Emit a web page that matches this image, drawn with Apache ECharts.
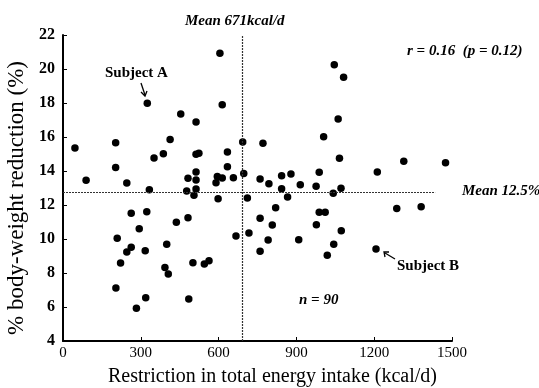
<!DOCTYPE html>
<html>
<head>
<meta charset="utf-8">
<script src="https://cdn.jsdelivr.net/npm/echarts@6/dist/echarts.min.js"></script>
<style>
html,body{margin:0;padding:0;background:#fff;}
#c{width:539px;height:388px;}
</style>
</head>
<body>
<div id="c"></div>
<script>
// Restriction in total energy intake (kcal/d)
const xValues = [605,325,614,454,513,46,203,413,693,351,387,513,524,634,203,634,89,246,482,513,513,595,614,657,590,697,760,
  333,477,513,505,598,711,
  263,323,294,437,482,209,263,246,317,400,667,717,222,393,406,501,545,563,204,319,485,283,
  1046,1082,1061,1005,771,1066,1314,1475,1212,988,879,843,794,915,976,843,1072,
  866,1042,820,988,1011,1287,1381,760,807,977,1073,791,909,1044,760,1019,1207];
// % body-weight reduction
const yValues = [20.92,17.98,17.9,17.35,16.88,15.35,15.66,15.86,15.7,14.76,15.02,14.98,15.05,15.12,14.2,14.25,13.45,13.3,13.57,13.94,13.47,13.67,13.59,13.6,13.31,13.86,13.53,
  12.9,12.82,12.94,12.57,12.37,12.41,
  11.51,11.6,10.6,10.98,11.25,10.04,9.51,9.24,9.31,9.69,10.18,10.35,8.59,8.33,7.94,8.61,8.53,8.72,7.12,6.55,6.47,5.92,
  20.25,19.51,17.06,16.02,15.63,14.75,14.57,14.49,13.94,13.92,13.82,13.72,13.25,13.19,13.1,12.96,12.98,
  12.47,12.69,11.84,11.57,11.57,11.8,11.9,11.22,10.82,10.84,10.49,9.94,9.96,9.69,9.28,9.04,9.41];
const xTicks = [0,300,600,900,1200,1500];
const yTicks = [4,6,8,10,12,14,16,18,20,22];
const meanX = 690;          // drawn position of the "Mean 671kcal/d" line
const meanY = 12.75;        // drawn position of the "Mean 12.5%" line
const meanYLineEnd = 1435;

const points = xValues.map((x, i) => [x, yValues[i]]);
const serif = '"Liberation Serif","DejaVu Serif",serif';

const chart = echarts.init(document.getElementById('c'), null, {renderer: 'canvas'});
chart.setOption({
  animation: false,
  backgroundColor: '#fff',
  grid: {left: 63, right: 87, top: 35, bottom: 47, containLabel: false, outerBoundsMode: 'none'},
  xAxis: {
    type: 'value', min: xTicks[0], max: xTicks[xTicks.length - 1], interval: 300,
    name: 'Restriction in total energy intake (kcal/d)',
    nameLocation: 'middle', nameGap: 26,
    nameTextStyle: {fontFamily: serif, fontSize: 20, color: '#000', padding: [0, 0, 0, 30]},
    axisLine: {lineStyle: {color: '#000', width: 2}},
    axisTick: {inside: true, length: 4, lineStyle: {color: '#000'}},
    axisLabel: {fontFamily: serif, fontSize: 15, color: '#000', margin: 5, formatter: v => String(v)},
    splitLine: {show: false}
  },
  yAxis: {
    type: 'value', min: yTicks[0], max: yTicks[yTicks.length - 1], interval: 2,
    name: '% body-weight reduction (%)',
    nameLocation: 'middle', nameGap: 31,
    nameTextStyle: {fontFamily: serif, fontSize: 23, color: '#000', padding: [0, 20, 0, 0]},
    axisLine: {lineStyle: {color: '#000', width: 2}},
    axisTick: {inside: true, length: 4, lineStyle: {color: '#000'}},
    axisLabel: {fontFamily: serif, fontSize: 16, fontWeight: 'bold', color: '#000', margin: 8},
    splitLine: {show: false}
  },
  series: [{
    type: 'scatter',
    data: points,
    symbolSize: 7.5,
    itemStyle: {color: '#000', opacity: 1},
    markLine: {
      silent: true, symbol: 'none',
      label: {show: false},
      lineStyle: {color: '#333', type: [2, 1], width: 1.2},
      data: [
        {xAxis: meanX},
        [{coord: [0, meanY]}, {coord: [meanYLineEnd, meanY]}]
      ]
    }
  }],
  graphic: [
    {type: 'text', left: 185, top: 14, style: {text: 'Mean 671kcal/d', font: 'italic bold 15px ' + serif, fill: '#000'}},
    {type: 'text', left: 407, top: 44, style: {text: 'r = 0.16  (p = 0.12)', font: 'italic bold 15px ' + serif, fill: '#000'}},
    {type: 'text', left: 462, top: 184, style: {text: 'Mean 12.5%', font: 'italic bold 15px ' + serif, fill: '#000'}},
    {type: 'text', left: 299, top: 293, style: {text: 'n = 90', font: 'italic bold 15px ' + serif, fill: '#000'}},
    {type: 'text', left: 105, top: 66, style: {text: 'Subject A', font: 'bold 15px ' + serif, fill: '#000'}},
    {type: 'text', left: 397, top: 259, style: {text: 'Subject B', font: 'bold 15px ' + serif, fill: '#000'}},
    {type: 'line', shape: {x1: 141, y1: 83, x2: 145, y2: 95}, style: {stroke: '#000', lineWidth: 1.3}},
    {type: 'polyline', shape: {points: [[141, 92], [145, 96], [147, 91]]}, style: {stroke: '#000', lineWidth: 1.3, fill: null}},
    {type: 'line', shape: {x1: 395, y1: 259, x2: 385, y2: 253}, style: {stroke: '#000', lineWidth: 1.3}},
    {type: 'polyline', shape: {points: [[385, 257], [384, 252], [389, 252]]}, style: {stroke: '#000', lineWidth: 1.3, fill: null}}
  ]
});
</script>
</body>
</html>
